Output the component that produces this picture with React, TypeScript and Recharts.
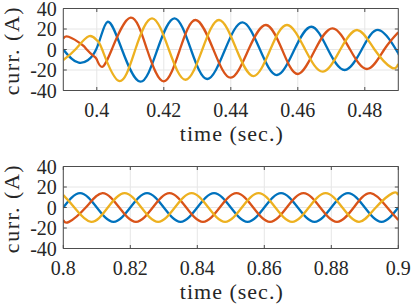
import { CartesianGrid, Label, Line, LineChart, XAxis, YAxis } from 'recharts'

// x ticks of both panels, y ticks shared
const topTimeTicks = [0.4, 0.42, 0.44, 0.46, 0.48]
const bottomTimeTicks = [0.8, 0.82, 0.84, 0.86, 0.88, 0.9]
const currentTicks = [-40, -20, 0, 20, 40]

// top panel (fault transient), [time, current]
const phaseATop: [number, number][] = [
  [0.39, 0], [0.3946, -12.9], [0.3998, 0], [0.4032, 27], [0.4075, 0],
  [0.413, -31.4], [0.4181, 0], [0.4232, 30.4], [0.4281, 0], [0.433, -28.8],
  [0.4383, 0], [0.4435, 26.5], [0.4487, 0], [0.4538, -24.9], [0.459, 0],
  [0.4641, 22.2], [0.469, 0], [0.474, -20], [0.4791, 0], [0.4842, 19],
  [0.4893, 0], [0.49, -4.2],
]
const phaseBTop: [number, number][] = [
  [0.39, 10.5], [0.3916, 12.4], [0.3956, 4.6], [0.397, 0], [0.3991, -6.5],
  [0.4, -9.8], [0.4016, -17], [0.4046, 1], [0.4101, 31], [0.415, 0],
  [0.42, -31], [0.4248, 0], [0.4295, 28.8], [0.4348, 0], [0.44, -27.5],
  [0.4453, 0], [0.4505, 23.9], [0.4553, 0], [0.46, -23.9], [0.4652, 0],
  [0.4704, 20.7], [0.4756, 0], [0.4808, -19], [0.4858, 0], [0.49, 16.8],
]
const phaseCTop: [number, number][] = [
  [0.39, -10.2], [0.3936, 0], [0.3976, 12.9], [0.4, 9], [0.4016, 0],
  [0.4066, -30.7], [0.4115, 0], [0.4165, 30.4], [0.4215, 0], [0.4265, -29.5],
  [0.4315, 0], [0.4365, 28.8], [0.4417, 0], [0.4468, -25.9], [0.4518, 0],
  [0.4568, 23.9], [0.4622, 0], [0.4675, -21.6], [0.4727, 0], [0.4778, 19],
  [0.4829, 0], [0.488, -17.7], [0.49, -14],
]

// bottom panel (steady state)
const phaseABottom: [number, number][] = [
  [0.8, 0], [0.805, 14], [0.81, 0], [0.815, -14], [0.82, 0], [0.825, 14],
  [0.83, 0], [0.835, -14], [0.84, 0], [0.845, 14], [0.85, 0], [0.855, -14],
  [0.86, 0], [0.865, 14], [0.87, 0], [0.875, -14], [0.88, 0], [0.885, 14],
  [0.89, 0], [0.895, -14], [0.9, 0],
]
const phaseBBottom: [number, number][] = [
  [0.8, -12.1], [0.8017, -14], [0.8067, 0], [0.8117, 14], [0.8167, 0],
  [0.8217, -14], [0.8267, 0], [0.8317, 14], [0.8367, 0], [0.8417, -14],
  [0.8467, 0], [0.8517, 14], [0.8567, 0], [0.8617, -14], [0.8667, 0],
  [0.8717, 14], [0.8767, 0], [0.8817, -14], [0.8867, 0], [0.8917, 14],
  [0.8967, 0], [0.9, -12.1],
]
const phaseCBottom: [number, number][] = [
  [0.8, 12.1], [0.8033, 0], [0.8083, -14], [0.8133, 0], [0.8183, 14],
  [0.8233, 0], [0.8283, -14], [0.8333, 0], [0.8383, 14], [0.8433, 0],
  [0.8483, -14], [0.8533, 0], [0.8583, 14], [0.8633, 0], [0.8683, -14],
  [0.8733, 0], [0.8783, 14], [0.8833, 0], [0.8883, -14], [0.8933, 0],
  [0.8983, 14], [0.9, 12.1],
]

const COLORS = ['#0072BD', '#D95319', '#EDB120']
const FONT = 'Liberation Serif'
const INK = '#262626'
const BOX = '#4d4d4d'

const toPoints = (pairs: [number, number][]) => pairs.map(([t, v]) => ({ t, v }))

const renderTimeLabel = (props: any) => {
  const vb = props.viewBox
  return (
    <text
      x={vb.x + vb.width / 2 + 1}
      y={vb.y + 50}
      textAnchor="middle"
      fill={INK}
      style={{ fontFamily: FONT, fontSize: 22, letterSpacing: 1 }}
    >
      time (sec.)
    </text>
  )
}

const renderCurrentLabel = (props: any) => {
  const vb = props.viewBox
  const x = vb.x + 18.5
  const y = vb.y + vb.height / 2 + 1
  return (
    <text
      x={x}
      y={y}
      transform={`rotate(-90, ${x}, ${y})`}
      textAnchor="middle"
      fill={INK}
      style={{ fontFamily: FONT, fontSize: 22, letterSpacing: 1.5 }}
    >
      curr. (A)
    </text>
  )
}

interface PanelProps {
  xDomain: [number, number]
  xTicks: number[]
  series: [number, number][][]
  top: number
}

function Panel({ xDomain, xTicks, series, top }: PanelProps) {
  const plotHeight = 82
  const chartHeight = 153
  const tickStyle = { fill: INK, fontSize: 20, fontFamily: FONT, style: { fontFamily: FONT } }
  return (
    <LineChart
      width={415}
      height={chartHeight}
      margin={{ top: top - 1, right: 0, bottom: 0, left: 0 }}
      style={{ fontFamily: FONT }}
    >
      <CartesianGrid stroke="#e6e6e6" strokeWidth={1} />
      <XAxis
        dataKey="t"
        type="number"
        domain={xDomain}
        ticks={xTicks}
        interval={0}
        allowDataOverflow
        height={chartHeight - top - plotHeight}
        tickFormatter={(v: number) => String(v)}
        tick={tickStyle}
        tickSize={-3.5}
        tickMargin={16}
        axisLine={{ stroke: BOX }}
        tickLine={{ stroke: BOX }}
      >
        <Label content={renderTimeLabel} />
      </XAxis>
      <XAxis
        xAxisId="top"
        orientation="top"
        dataKey="t"
        type="number"
        domain={xDomain}
        ticks={xTicks}
        interval={0}
        allowDataOverflow
        height={1}
        tickFormatter={() => ''}
        tickSize={-3.5}
        axisLine={{ stroke: BOX }}
        tickLine={{ stroke: BOX }}
      />
      <YAxis
        type="number"
        domain={[-40, 40]}
        ticks={currentTicks}
        interval={0}
        allowDataOverflow
        width={63.3}
        tick={tickStyle}
        tickSize={-3.5}
        tickMargin={10}
        axisLine={{ stroke: BOX }}
        tickLine={{ stroke: BOX }}
      >
        <Label content={renderCurrentLabel} />
      </YAxis>
      <YAxis
        yAxisId="right"
        orientation="right"
        type="number"
        domain={[-40, 40]}
        ticks={currentTicks}
        interval={0}
        allowDataOverflow
        width={16.7}
        tickFormatter={() => ''}
        tickSize={-3.5}
        axisLine={{ stroke: BOX }}
        tickLine={{ stroke: BOX }}
      />
      {series.map((pairs, i) => (
        <Line
          key={i}
          data={toPoints(pairs)}
          dataKey="v"
          type="natural"
          stroke={COLORS[i]}
          strokeWidth={2.3}
          dot={false}
          activeDot={false}
          isAnimationActive={false}
        />
      ))}
    </LineChart>
  )
}

export default function App() {
  return (
    <div style={{ position: 'absolute', left: 0, top: 0, width: 415, height: 306, background: '#fff' }}>
      <Panel
        xDomain={[0.39, 0.49]}
        xTicks={topTimeTicks}
        series={[phaseATop, phaseBTop, phaseCTop]}
        top={8.5}
      />
      <Panel
        xDomain={[0.8, 0.9]}
        xTicks={bottomTimeTicks}
        series={[phaseABottom, phaseBBottom, phaseCBottom]}
        top={13.5}
      />
    </div>
  )
}
